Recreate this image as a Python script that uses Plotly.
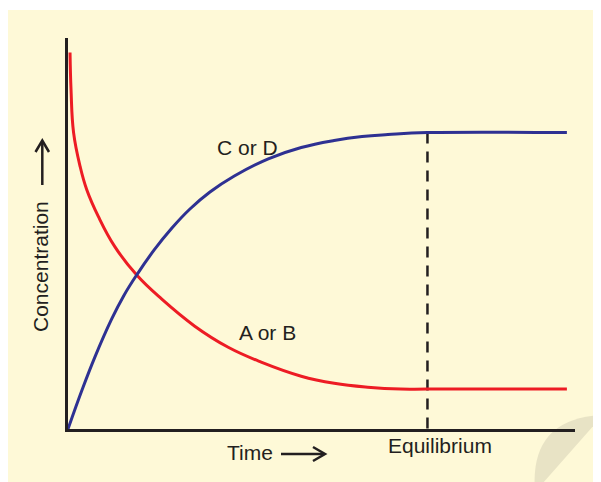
import plotly.graph_objects as go

# ---- data (time units 0..100, concentration units 0..100) ----
reactant_time = [0.4, 0.6, 1.1, 2.4, 3.7, 6.0, 9.2, 13.6, 18.5, 25.0, 31.6, 38.1, 46.0, 52.5, 59.1, 65.6, 70.9, 98.4]
reactant_conc = [96.3, 86.7, 75.8, 67.1, 61.2, 54.3, 46.7, 39.3, 33.2, 26.3, 20.9, 17.1, 13.5, 11.7, 10.7, 10.2, 10.2, 10.2]

product_time = [0.0, 2.8, 5.3, 8.6, 11.0, 13.6, 17.0, 20.5, 24.0, 28.0, 32.8, 39.5, 46.0, 52.5, 58.0, 63.1, 70.9, 98.4]
product_conc = [0.0, 10.1, 18.4, 28.1, 34.1, 39.5, 45.8, 51.4, 56.2, 60.6, 64.7, 69.1, 72.0, 73.8, 74.8, 75.3, 75.8, 75.8]

equilibrium_time = 70.9
equilibrium_conc = 75.8

labels = {"product": "C or D", "reactant": "A or B", "x": "Time", "y": "Concentration", "eq": "Equilibrium"}

# ---- styling ----
OFF = 8  # page body margin
W, H = 593, 474
ML, MR, MT, MB = 60, 26, 30, 53
PW, PH = W - ML - MR, H - MT - MB
INK = "#231f20"
RED = "#ed1c24"
BLUE = "#2e3192"
CREAM = "#fef9d7"
WMARK = "#e8e3c5"
FONT = "Liberation Sans, Arial, sans-serif"


def px(xs):
    """screen x pixel -> paper fraction"""
    return (xs - OFF - ML) / PW


def py(ys):
    """screen y pixel -> paper fraction"""
    return (H - MB - (ys - OFF)) / PH


fig = go.Figure()

fig.add_trace(go.Scatter(x=[equilibrium_time, equilibrium_time], y=[equilibrium_conc, 0], mode="lines",
                         line=dict(color=INK, width=2.5, dash="11px,8px"), hoverinfo="skip"))
fig.add_trace(go.Scatter(x=reactant_time, y=reactant_conc, mode="lines",
                         line=dict(color=RED, width=3, shape="spline", smoothing=1.2), hoverinfo="skip"))
fig.add_trace(go.Scatter(x=product_time, y=product_conc, mode="lines",
                         line=dict(color=BLUE, width=3, shape="spline", smoothing=1.2), hoverinfo="skip"))

shapes = [
    dict(type="rect", xref="paper", yref="paper", x0=px(8), x1=px(640), y0=py(520), y1=py(10),
         fillcolor=CREAM, line=dict(width=0), layer="below"),
    # watermark segment
    dict(type="path", xref="paper", yref="paper",
         path=f"M{px(535)},{py(492)} Q{px(529)},{py(418)} {px(603)},{py(415)} Z",
         fillcolor=WMARK, line=dict(width=0), layer="below"),
    # Time arrow
    dict(type="line", xref="paper", yref="paper", x0=px(281), x1=px(324), y0=py(454), y1=py(454),
         line=dict(color=INK, width=2.5)),
    dict(type="path", xref="paper", yref="paper",
         path=f"M{px(313)},{py(447)} L{px(325)},{py(454)} L{px(313)},{py(461)}",
         line=dict(color=INK, width=2.5)),
    # Concentration arrow
    dict(type="line", xref="paper", yref="paper", x0=px(42.3), x1=px(42.3), y0=py(185), y1=py(141),
         line=dict(color=INK, width=2.5)),
    dict(type="path", xref="paper", yref="paper",
         path=f"M{px(35.5)},{py(152)} L{px(42.3)},{py(140.5)} L{px(49)},{py(152)}",
         line=dict(color=INK, width=2.5)),
]

txt = dict(showarrow=False, xanchor="center", yanchor="middle", font=dict(size=21, color=INK, family=FONT))
annotations = [
    dict(x=35.4, y=71.9, xref="x", yref="y", text=labels["product"], **txt),
    dict(x=39.3, y=24.6, xref="x", yref="y", text=labels["reactant"], **txt),
    dict(x=px(439.5), y=py(445), xref="paper", yref="paper", text=labels["eq"], **txt),
    dict(x=px(250), y=py(452), xref="paper", yref="paper", text=labels["x"], **txt),
    dict(x=px(40), y=py(267), xref="paper", yref="paper", text=labels["y"], textangle=-90, **txt),
]

axis_common = dict(showline=True, linecolor=INK, linewidth=3, showgrid=False, zeroline=False,
                   showticklabels=False, ticks="", fixedrange=True)

fig.update_layout(
    width=W, height=H,
    margin=dict(l=ML, r=MR, t=MT, b=MB, pad=0),
    paper_bgcolor="white",
    plot_bgcolor="rgba(0,0,0,0)",
    showlegend=False,
    xaxis=dict(range=[0, 100], **axis_common),
    yaxis=dict(range=[0, 100], **axis_common),
    shapes=shapes,
    annotations=annotations,
)

fig.write_html("out.html")
